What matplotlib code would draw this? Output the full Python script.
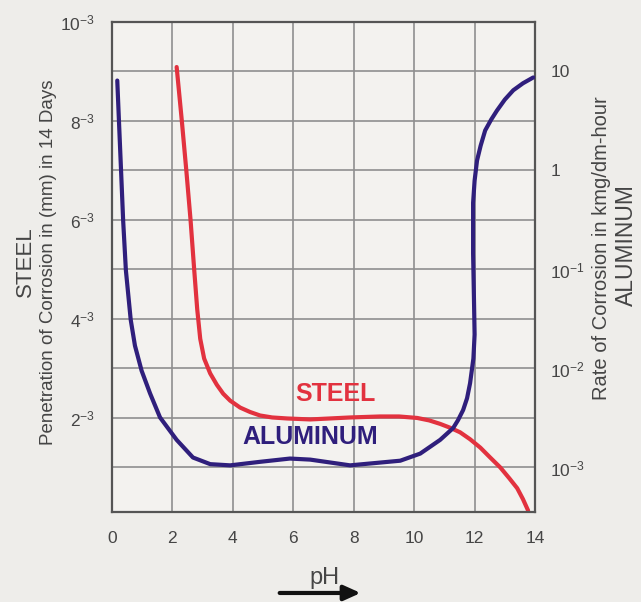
import matplotlib.pyplot as plt
import numpy as np

# steel: penetration of corrosion (x10^-3 mm in 14 days) vs pH
steel_ph = [2.14, 2.31, 2.46, 2.60, 2.72, 2.82, 2.92, 3.05, 3.25, 3.47, 3.68, 3.91, 4.24,
            4.57, 4.9, 5.3, 5.79, 6.56, 7.88, 8.87, 9.5, 10.1, 10.5, 10.86, 11.2, 11.52,
            11.85, 12.19, 12.5, 12.85, 13.15, 13.41, 13.6, 13.77]
steel_pen = [9.09, 8.01, 7.0, 6.0, 5.0, 4.2, 3.6, 3.2, 2.9, 2.67, 2.49, 2.35, 2.21,
             2.12, 2.05, 2.01, 1.99, 1.97, 2.01, 2.03, 2.03, 2.0, 1.95, 1.88, 1.8, 1.71,
             1.57, 1.40, 1.21, 1.0, 0.78, 0.58, 0.36, 0.13]

# aluminum: rate of corrosion (kmg/dm-hour) vs pH
al_ph = [0.175, 0.23, 0.30, 0.37, 0.46, 0.62, 0.76, 0.98, 1.26, 1.59, 2.14, 2.68, 3.25,
         3.91, 4.9, 5.89, 6.56, 7.88, 9.54, 10.2, 10.86, 11.29, 11.45, 11.62, 11.75, 11.85,
         11.96, 12.0, 11.98, 11.95, 11.95, 12.0, 12.08, 12.2, 12.35, 12.55, 12.74, 13.0,
         13.28, 13.6, 13.94]
al_rate = [8.1, 3.2, 1.0, 0.31, 0.098, 0.031, 0.017, 0.0095, 0.0056, 0.0032, 0.0019,
           0.00126, 0.00108, 0.00105, 0.00114, 0.00123, 0.0012, 0.00105, 0.00117, 0.00138,
           0.0019, 0.0025, 0.0030, 0.0038, 0.0050, 0.0071, 0.0126, 0.022, 0.048, 0.145,
           0.47, 0.79, 1.26, 1.78, 2.54, 3.27, 4.03, 5.2, 6.46, 7.6, 8.7]

ph_ticks = [0, 2, 4, 6, 8, 10, 12, 14]
left_ticks = [2, 4, 6, 8, 10]
left_labels = [r'$2^{-3}$', r'$4^{-3}$', r'$6^{-3}$', r'$8^{-3}$', r'$10^{-3}$']
right_ticks = [1e-3, 1e-2, 1e-1, 1, 10]
right_labels = [r'$10^{-3}$', r'$10^{-2}$', r'$10^{-1}$', '1', '10']

plt.rcParams['font.family'] = ['Liberation Sans', 'DejaVu Sans']
plt.rcParams['mathtext.fontset'] = 'custom'
plt.rcParams['mathtext.rm'] = 'Liberation Sans'
plt.rcParams['mathtext.it'] = 'Liberation Sans'

bg = '#eeedea'
grid_c = '#8f8f8f'
spine_c = '#555555'
txt_c = '#454545'
red = '#e2323f'
navy = '#2f1f7c'

fig = plt.figure(figsize=(6.41, 6.02), dpi=100, facecolor=bg)
ax = fig.add_axes([0.1747, 0.1495, 0.66, 0.814])
ax.set_facecolor('#f3f2ef')

ax.set_xlim(0, 14)
ax.set_ylim(0.1, 10)
ax.set_xticks(ph_ticks)
ax.set_yticks(left_ticks)
ax.set_yticklabels(left_labels)
ax.set_yticks([1, 3, 5, 7, 9], minor=True)
ax.grid(True, which='both', color=grid_c, lw=1.2)
ax.set_axisbelow(True)
ax.tick_params(axis='both', which='both', length=0, colors=txt_c, labelsize=12.5)
ax.tick_params(axis='x', pad=14)
ax.tick_params(axis='y', pad=12)
for s in ax.spines.values():
    s.set_color(spine_c)
    s.set_linewidth(1.6)

# aluminium on the log scale at right, decades lined up with the odd gridlines
ax2 = ax.twinx()
ax2.set_yscale('log')
ax2.set_ylim(10 ** -3.45, 10 ** 1.5)
ax2.set_yticks(right_ticks)
ax2.set_yticklabels(right_labels)
ax2.minorticks_off()
ax2.tick_params(axis='y', which='both', length=0, colors=txt_c, labelsize=12.5, pad=11)
for s in ax2.spines.values():
    s.set_visible(False)

ax.plot(steel_ph, steel_pen, color=red, lw=3.0, solid_capstyle='round', solid_joinstyle='round')
ax2.plot(al_ph, al_rate, color=navy, lw=3.0, solid_capstyle='round', solid_joinstyle='round')

ax.text(7.38, 2.49, 'STEEL', color=red, fontsize=18, fontweight='bold', ha='center', va='center')
ax.text(6.56, 1.61, 'ALUMINUM', color=navy, fontsize=18, fontweight='bold', ha='center', va='center')

# axis titles
fig.text(0.039, 0.565, 'STEEL', rotation=90, fontsize=16, color=txt_c, ha='center', va='center')
fig.text(0.075, 0.565, 'Penetration of Corrosion in (mm) in 14 Days', rotation=90, fontsize=13.5,
         color=txt_c, ha='center', va='center')
fig.text(0.939, 0.588, 'Rate of Corrosion in kmg/dm-hour', rotation=90, fontsize=14.5,
         color=txt_c, ha='center', va='center')
fig.text(0.977, 0.593, 'ALUMINUM', rotation=90, fontsize=16.5, color=txt_c, ha='center', va='center')

fig.text(0.507, 0.04, 'pH', fontsize=17, color=txt_c, ha='center', va='center')
fig.add_artist(plt.Annotation('', xy=(0.567, 0.015), xytext=(0.432, 0.015),
                              xycoords='figure fraction', textcoords='figure fraction',
                              arrowprops=dict(arrowstyle='-|>,head_length=1.0,head_width=0.45',
                                              color='#111111', lw=3)))

fig.savefig('out.png', dpi=100, facecolor=bg)
